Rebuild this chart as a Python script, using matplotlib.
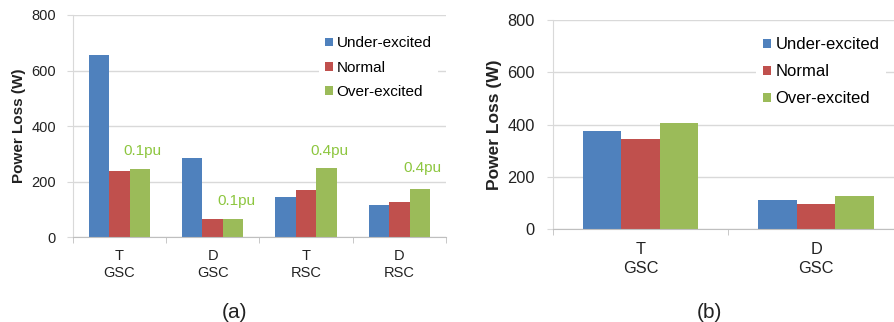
import numpy as np
import matplotlib
matplotlib.use("Agg")
import matplotlib.pyplot as plt

plt.rcParams['font.family'] = ['Liberation Sans', 'DejaVu Sans']

series = ["Under-excited", "Normal", "Over-excited"]
colors = ["#4F81BD", "#C0504D", "#9BBB59"]

# panel (a)
cats_a = ["T\nGSC", "D\nGSC", "T\nRSC", "D\nRSC"]
under_a = [655, 285, 146, 116]
normal_a = [237, 65, 172, 127]
over_a = [246, 65, 250, 174]
notes_a = ["0.1pu", "0.1pu", "0.4pu", "0.4pu"]
note_y_a = [311, 131, 311, 251]

# panel (b)
cats_b = ["T\nGSC", "D\nGSC"]
under_b = [376, 111]
normal_b = [346, 95]
over_b = [406, 126]

W, H = 895, 322
fig = plt.figure(figsize=(W / 100, H / 100), dpi=100)
grid_c = "#D9D9D9"
axis_c = "#BFBFBF"
text_c = "#222222"


def style_axis(ax, ncat, fs, lab_pad, x_pad, lsp):
    ax.set_ylim(0, 800)
    ax.set_yticks([0, 200, 400, 600, 800])
    ax.set_xlim(-0.5, ncat - 0.5)
    ax.set_xticks(np.arange(ncat + 1) - 0.5, minor=True)
    ax.yaxis.grid(True, color=grid_c, lw=1.0)
    ax.set_axisbelow(True)
    for s in ["top", "right"]:
        ax.spines[s].set_visible(False)
    ax.spines["left"].set_color(grid_c)
    ax.spines["bottom"].set_color(axis_c)
    ax.tick_params(axis="y", length=4, color=grid_c, labelsize=fs, labelcolor=text_c, pad=lab_pad)
    ax.tick_params(axis="x", which="major", length=0, labelsize=fs, labelcolor=text_c, pad=x_pad)
    ax.tick_params(axis="x", which="minor", length=4, color=axis_c)
    for t in ax.get_xticklabels():
        t.set_linespacing(lsp)


def bars(ax, cats, vals):
    x = np.arange(len(cats))
    w = 0.22
    for i, (v, c, n) in enumerate(zip(vals, colors, series)):
        ax.bar(x + (i - 1) * w, v, width=w, color=c, label=n, lw=0)
    ax.set_xticks(x, cats)


def legend(ax, anchor, fs, lsp):
    leg = ax.legend(loc="center left", bbox_to_anchor=anchor, frameon=True,
                    fontsize=fs, handlelength=0.5, handleheight=0.5, handletextpad=0.25,
                    labelspacing=lsp, borderpad=0.4, borderaxespad=0, fancybox=False)
    leg.get_frame().set_edgecolor("none")
    leg.get_frame().set_facecolor("white")
    leg.get_frame().set_alpha(1)


# (a)
ax1 = fig.add_axes([72.7 / W, 1 - 237.3 / H, 373.3 / W, 222.3 / H])
bars(ax1, cats_a, [under_a, normal_a, over_a])
style_axis(ax1, 4, 10.5, 8, 8.5, 1.3)
ax1.set_ylabel("Power Loss (W)", fontsize=11, fontweight="bold", color=text_c, labelpad=4)
for i, (t, y) in enumerate(zip(notes_a, note_y_a)):
    ax1.text(i + 0.25, y, t, color="#8DC63F", fontsize=11, ha="center", va="center")
legend(ax1, (0.66, 0.763), 11, 0.68)

# (b)
ax2 = fig.add_axes([552.7 / W, 1 - 229.3 / H, 351.3 / W, 209.3 / H])
bars(ax2, cats_b, [under_b, normal_b, over_b])
style_axis(ax2, 2, 11.8, 9, 9, 1.35)
ax2.set_ylabel("Power Loss (W)", fontsize=12.5, fontweight="bold", color=text_c, labelpad=4)
legend(ax2, (0.58, 0.752), 12, 0.72)

fig.text(235 / W, 1 - 312 / H, "(a)", fontsize=15, ha="center", va="center", color=text_c)
fig.text(709 / W, 1 - 312 / H, "(b)", fontsize=15, ha="center", va="center", color=text_c)

fig.savefig("out.png", dpi=100, facecolor="white")
